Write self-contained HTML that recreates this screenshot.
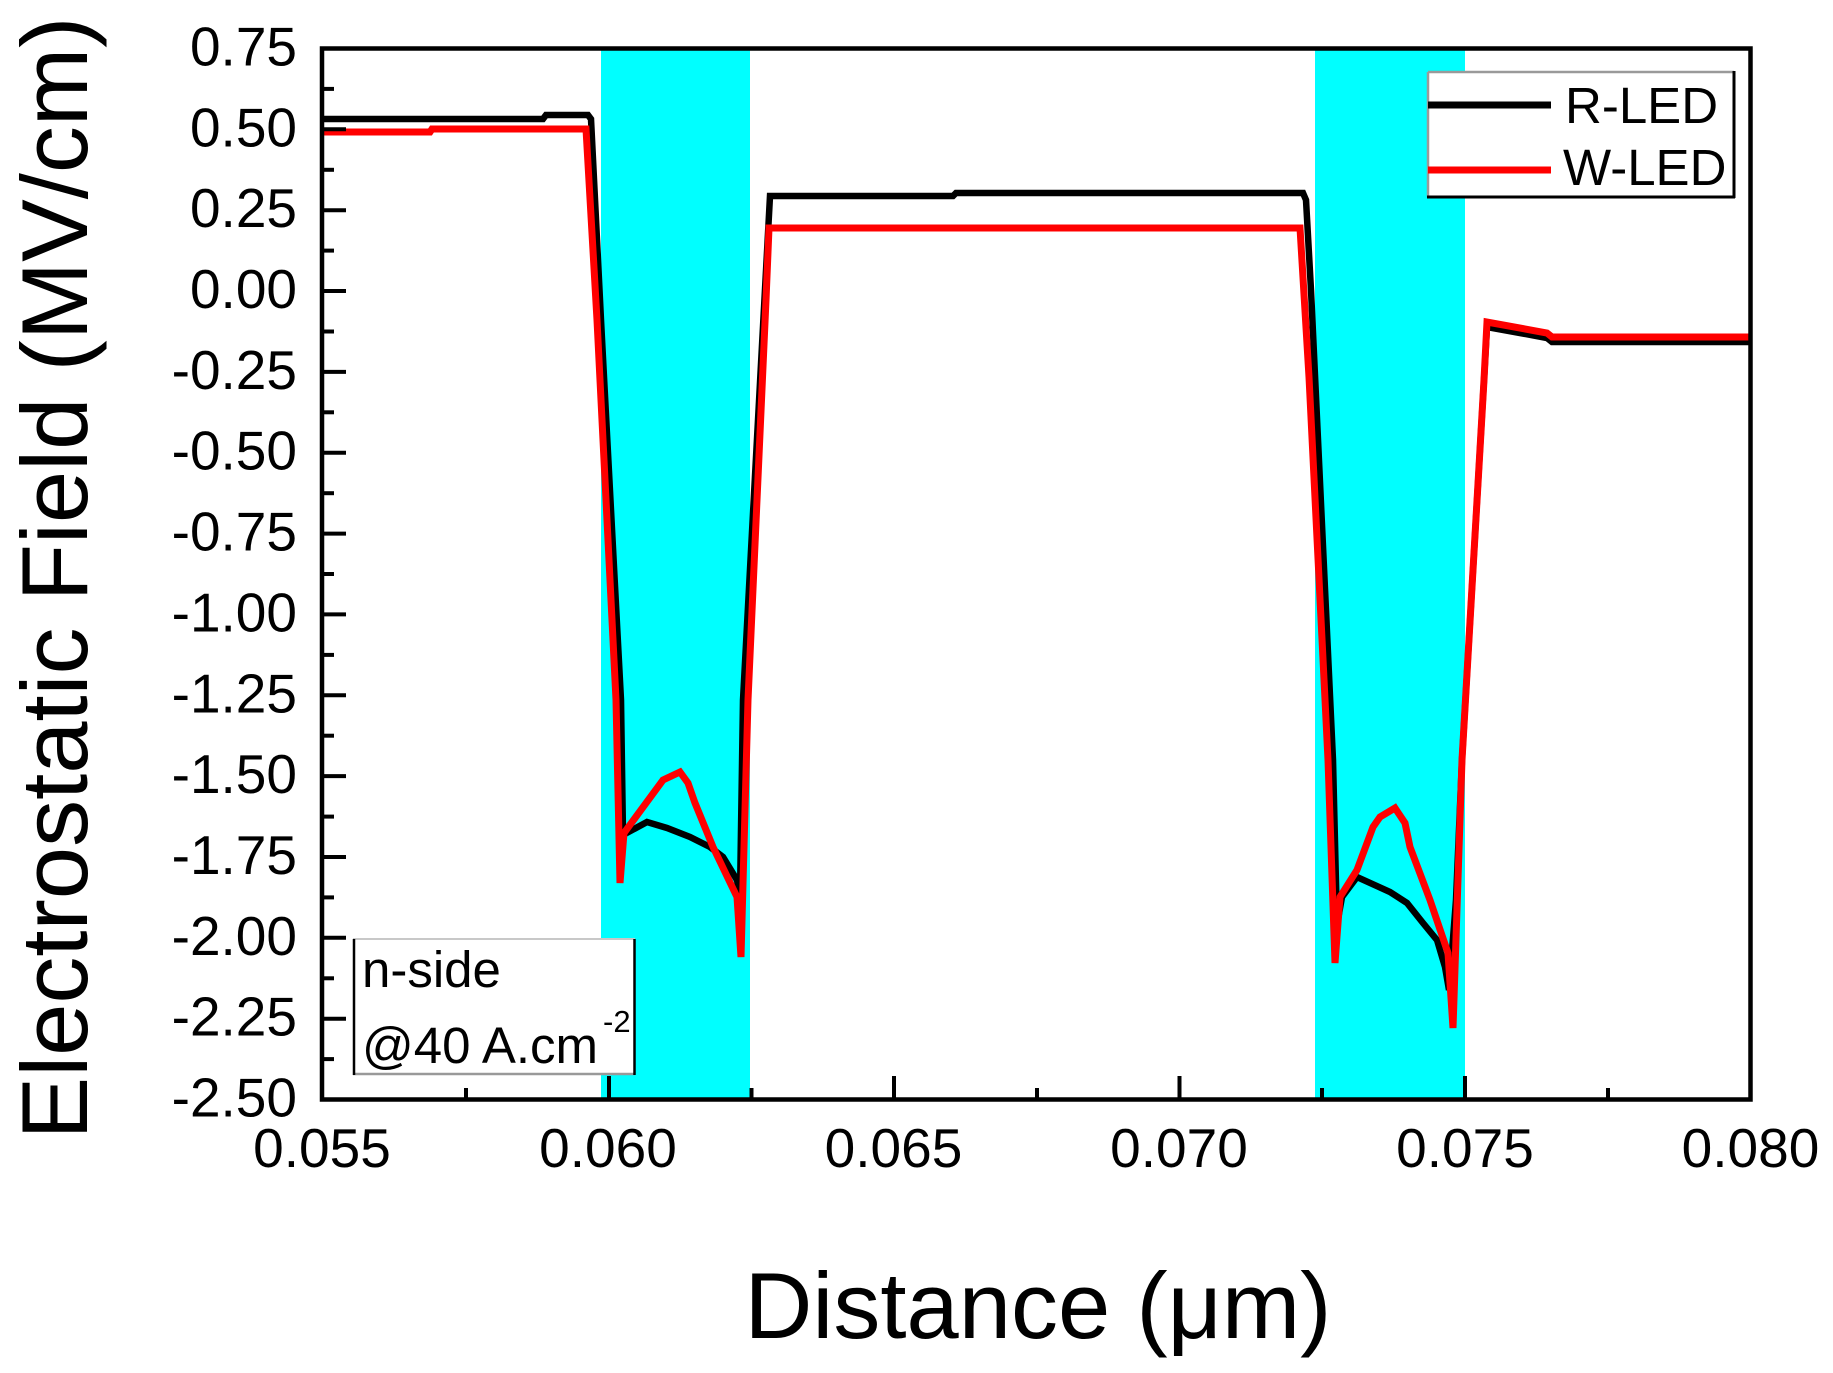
<!DOCTYPE html>
<html>
<head>
<meta charset="utf-8">
<style>
  html, body { margin: 0; padding: 0; background: #ffffff; }
  svg { display: block; }
  text { font-family: "Liberation Sans", Arial, sans-serif; fill: #000; }
</style>
</head>
<body>
<svg width="1833" height="1373" viewBox="0 0 1833 1373" xmlns="http://www.w3.org/2000/svg">
  <rect x="0" y="0" width="1833" height="1373" fill="#ffffff"/>
  <defs>
    <clipPath id="plot">
      <rect x="322" y="48.5" width="1428.5" height="1051"/>
    </clipPath>
  </defs>

  <!-- cyan bands -->
  <rect x="601" y="48.5" width="149" height="1051" fill="#00ffff"/>
  <rect x="1315" y="48.5" width="150" height="1051" fill="#00ffff"/>

  <!-- series -->
  <g clip-path="url(#plot)" fill="none" stroke-linejoin="miter" stroke-miterlimit="2">
    <polyline stroke="#000000" stroke-width="6.5" points="322,119 543,119 546,115 588,115 591,119 601,320 621,700 623,835 647,822 667,828 690,837 710,847 723,857 737,880 740,895 743,700 770,196 953,196 956,193 1303,193 1306,200 1311,290 1333,760 1337,925 1342,897 1357,877 1390,892 1407,903 1423,923 1437,940 1445,967 1449,990 1456,900 1462,760 1484,380 1487,327 1520,333 1547,338 1552,342 1751,342"/>
    <polyline stroke="#ff0000" stroke-width="7" points="322,132 430,132 432,129 586,129 597,320 616,700 620,883 624,833 663,780 680,772 688,783 695,803 713,847 737,897 741,957 748,700 766,300 769,228 1300,228 1309,377 1328,760 1335,963 1340,897 1357,870 1373,827 1380,817 1395,808 1405,823 1410,847 1430,900 1448,953 1453,1028 1462,760 1484,380 1487,322 1547,333 1552,337 1751,337"/>
  </g>

  <!-- legend -->
  <rect x="1428" y="72" width="306" height="125" fill="#ffffff"/>
  <line x1="1428" y1="72" x2="1734" y2="72" stroke="#9a9a9a" stroke-width="2.5"/>
  <line x1="1428" y1="72" x2="1428" y2="197" stroke="#9a9a9a" stroke-width="2.5"/>
  <line x1="1734" y1="71" x2="1734" y2="198" stroke="#000" stroke-width="3"/>
  <line x1="1427" y1="197" x2="1735" y2="197" stroke="#000" stroke-width="3"/>
  <line x1="1428" y1="105" x2="1551" y2="105" stroke="#000" stroke-width="7"/>
  <line x1="1428" y1="170" x2="1551" y2="170" stroke="#ff0000" stroke-width="7"/>
  <text x="1565" y="123" font-size="51">R-LED</text>
  <text x="1563" y="185" font-size="51">W-LED</text>

  <!-- annotation box -->
  <rect x="353" y="939" width="282" height="135" fill="#ffffff"/>
  <line x1="353" y1="939" x2="635" y2="939" stroke="#c8c8c8" stroke-width="2"/>
  <line x1="353" y1="1074" x2="635" y2="1074" stroke="#999" stroke-width="2.5"/>
  <line x1="354" y1="939" x2="354" y2="1075" stroke="#000" stroke-width="2.5"/>
  <line x1="634.5" y1="939" x2="634.5" y2="1075" stroke="#000" stroke-width="2.5"/>
  <text x="362" y="987" font-size="51">n-side</text>
  <text x="362" y="1063" font-size="51">@40 A.cm</text>
  <text x="603" y="1032" font-size="31">-2</text>

  <!-- axes frame -->
  <rect x="322" y="48.5" width="1428.5" height="1051" fill="none" stroke="#000" stroke-width="4.5"/>

  <!-- y ticks -->
  <g stroke="#000" stroke-width="4">
    <line x1="322" y1="48.5" x2="346" y2="48.5"/>
    <line x1="322" y1="129.3" x2="346" y2="129.3"/>
    <line x1="322" y1="210.2" x2="346" y2="210.2"/>
    <line x1="322" y1="291.0" x2="346" y2="291.0"/>
    <line x1="322" y1="371.9" x2="346" y2="371.9"/>
    <line x1="322" y1="452.7" x2="346" y2="452.7"/>
    <line x1="322" y1="533.6" x2="346" y2="533.6"/>
    <line x1="322" y1="614.4" x2="346" y2="614.4"/>
    <line x1="322" y1="695.3" x2="346" y2="695.3"/>
    <line x1="322" y1="776.1" x2="346" y2="776.1"/>
    <line x1="322" y1="857.0" x2="346" y2="857.0"/>
    <line x1="322" y1="937.8" x2="346" y2="937.8"/>
    <line x1="322" y1="1018.7" x2="346" y2="1018.7"/>
    <!-- minor -->
    <line x1="322" y1="88.9" x2="334" y2="88.9"/>
    <line x1="322" y1="169.8" x2="334" y2="169.8"/>
    <line x1="322" y1="250.6" x2="334" y2="250.6"/>
    <line x1="322" y1="331.5" x2="334" y2="331.5"/>
    <line x1="322" y1="412.3" x2="334" y2="412.3"/>
    <line x1="322" y1="493.2" x2="334" y2="493.2"/>
    <line x1="322" y1="574.0" x2="334" y2="574.0"/>
    <line x1="322" y1="654.9" x2="334" y2="654.9"/>
    <line x1="322" y1="735.7" x2="334" y2="735.7"/>
    <line x1="322" y1="816.6" x2="334" y2="816.6"/>
    <line x1="322" y1="897.4" x2="334" y2="897.4"/>
    <line x1="322" y1="978.3" x2="334" y2="978.3"/>
    <line x1="322" y1="1059.1" x2="334" y2="1059.1"/>
  </g>

  <!-- x ticks -->
  <g stroke="#000" stroke-width="4">
    <line x1="609" y1="1099.5" x2="609" y2="1076"/>
    <line x1="894" y1="1099.5" x2="894" y2="1076"/>
    <line x1="1179.5" y1="1099.5" x2="1179.5" y2="1076"/>
    <line x1="1465" y1="1099.5" x2="1465" y2="1076"/>
    <line x1="466" y1="1099.5" x2="466" y2="1088"/>
    <line x1="751.5" y1="1099.5" x2="751.5" y2="1088"/>
    <line x1="1037" y1="1099.5" x2="1037" y2="1088"/>
    <line x1="1322" y1="1099.5" x2="1322" y2="1088"/>
    <line x1="1608" y1="1099.5" x2="1608" y2="1088"/>
  </g>

  <!-- y tick labels -->
  <g font-size="55" text-anchor="end">
    <text x="297" y="65.5">0.75</text>
    <text x="297" y="146.3">0.50</text>
    <text x="297" y="227.2">0.25</text>
    <text x="297" y="308.0">0.00</text>
    <text x="297" y="388.9">-0.25</text>
    <text x="297" y="469.7">-0.50</text>
    <text x="297" y="550.6">-0.75</text>
    <text x="297" y="631.4">-1.00</text>
    <text x="297" y="712.3">-1.25</text>
    <text x="297" y="793.1">-1.50</text>
    <text x="297" y="874.0">-1.75</text>
    <text x="297" y="954.8">-2.00</text>
    <text x="297" y="1035.7">-2.25</text>
    <text x="297" y="1116.5">-2.50</text>
  </g>

  <!-- x tick labels -->
  <g font-size="55" text-anchor="middle">
    <text x="322" y="1167">0.055</text>
    <text x="608" y="1167">0.060</text>
    <text x="893.5" y="1167">0.065</text>
    <text x="1179" y="1167">0.070</text>
    <text x="1465" y="1167">0.075</text>
    <text x="1750.5" y="1167">0.080</text>
  </g>

  <!-- axis titles -->
  <text x="1038" y="1338" font-size="94" text-anchor="middle">Distance (μm)</text>
  <text transform="translate(87,578) rotate(-90)" x="0" y="0" font-size="94" text-anchor="middle">Electrostatic Field (MV/cm)</text>
</svg>
</body>
</html>
